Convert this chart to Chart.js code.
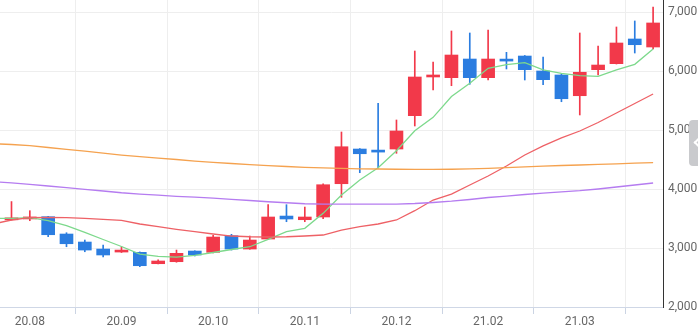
<!DOCTYPE html>
<html>
<head>
<meta charset="utf-8">
<script src="https://cdn.jsdelivr.net/npm/chart.js@4.4.1/dist/chart.umd.min.js"></script>
<style>
  html, body { margin: 0; padding: 0; background: #fff; }
  #wrap { position: relative; width: 698px; height: 336px; overflow: hidden; }
  #tab {
    position: absolute; left: 689px; top: 120px; width: 16px; height: 46px;
    background: #c9cacd; border-radius: 4px;
  }
  #tab::after {
    content: ''; position: absolute; left: 6px; top: 19px; width: 5px; height: 5px;
    border-left: 2px solid #fff; border-bottom: 2px solid #fff; transform: rotate(45deg);
  }
</style>
</head>
<body>
<div id="wrap">
  <canvas id="graph_area" width="698" height="336"></canvas>
  <div id="tab"></div>
</div>
<script>
// 주봉 시세 (시가/고가/저가/종가)
const opens  = [3480, 3495, 3533, 3239, 3103, 2984, 2933, 2928, 2735, 2769, 2950, 2928, 3210, 2984, 3154, 3544, 3482, 3528,
                4093, 4682, 4655, 4682, 5248, 5905, 5893, 6210, 5893, 6200, 6261, 6007, 5939, 5587, 6029, 6131, 6550, 6414];
const highs  = [3790, 3635, 3540, 3261, 3137, 3052, 3023, 2935, 2800, 2967, 2955, 3217, 3234, 3205, 3737, 3737, 3697, 4093,
                4971, 4690, 5458, 5175, 6346, 6159, 6686, 6652, 6703, 6324, 6270, 6244, 5950, 6652, 6431, 6754, 6856, 7093];
const lows   = [3475, 3465, 3193, 3023, 2938, 2849, 2925, 2684, 2730, 2760, 2866, 2920, 2967, 2980, 3150, 3448, 3448, 3499,
                3862, 4280, 4355, 4609, 5073, 5684, 5757, 5781, 5854, 6041, 5854, 5774, 5485, 5260, 5939, 6125, 6312, 6380];
const closes = [3500, 3527, 3227, 3074, 2967, 2883, 2967, 2701, 2781, 2911, 2883, 3188, 2984, 3137, 3528, 3494, 3528, 4076,
                4721, 4602, 4630, 4988, 5905, 5939, 6278, 5893, 6210, 6175, 6029, 5859, 5536, 5985, 6108, 6482, 6453, 6822];

// 이동평균선 (첫 값은 화면 왼쪽 밖의 직전 주)
const ma5   = [3502, 3506, 3516, 3468, 3380, 3268, 3146, 3027, 2899, 2860, 2848, 2877, 2925, 2976, 3023, 3149, 3278, 3336, 3590,
               3901, 4156, 4365, 4653, 4993, 5220, 5574, 5798, 6053, 6114, 6148, 6024, 5968, 5927, 5917, 6024, 6120, 6380];
const ma20  = [3409, 3477, 3516, 3522, 3516, 3505, 3489, 3472, 3409, 3363, 3319, 3278, 3239, 3205, 3193, 3188, 3193, 3205, 3222,
               3307, 3363, 3409, 3477, 3635, 3816, 3918, 4071, 4224, 4394, 4581, 4734, 4870, 4988, 5132, 5294, 5455, 5616];
const ma60  = [4772, 4759, 4738, 4708, 4677, 4645, 4613, 4580, 4553, 4529, 4504, 4478, 4456, 4436, 4417, 4400, 4385, 4372, 4361,
               4353, 4346, 4343, 4339, 4338, 4338, 4339, 4346, 4355, 4366, 4378, 4390, 4402, 4411, 4421, 4431, 4441, 4450];
const ma120 = [4125, 4108, 4083, 4054, 4025, 3996, 3969, 3940, 3918, 3898, 3879, 3864, 3850, 3828, 3808, 3787, 3770, 3753, 3748,
               3748, 3748, 3748, 3748, 3757, 3774, 3796, 3825, 3859, 3884, 3910, 3935, 3955, 3974, 4003, 4037, 4071, 4105];

// x축 눈금 (주 번호 → 월 표기), y축 가격 눈금
const tickIndex  = [1, 6, 11, 16, 21, 26, 31];
const tickLabels = ['20.08', '20.09', '20.10', '20.11', '20.12', '21.02', '21.03'];
const priceTicks = [2000, 3000, 4000, 5000, 6000, 7000];

const UP = '#f2394a';
const DOWN = '#2b7de0';

const candleColor = function (i) {
  return closes[i] >= opens[i] ? UP : DOWN;
};

const wickData = highs.map((h, i) => ({ x: i, y: [lows[i], h] }));
const bodyData = opens.map((o, i) => ({ x: i, y: [o, closes[i]] }));
const maPoints = function (arr) {
  return arr.map((v, i) => ({ x: i - 1, y: v }));
};

const lineSet = function (arr, color) {
  return {
    type: 'line',
    data: maPoints(arr),
    borderColor: color,
    borderWidth: 1.3,
    pointRadius: 0,
    tension: 0,
    order: 1
  };
};

const ctx = document.getElementById('graph_area').getContext('2d');
new Chart(ctx, {
  type: 'bar',
  data: {
    datasets: [
      {
        data: wickData,
        backgroundColor: (c) => candleColor(c.dataIndex),
        barThickness: 1,
        grouped: false,
        order: 3
      },
      {
        data: bodyData,
        backgroundColor: (c) => candleColor(c.dataIndex),
        barThickness: 13,
        grouped: false,
        minBarLength: 2,
        order: 2
      },
      lineSet(ma60, '#f5a24f'),
      lineSet(ma120, '#b57cf0'),
      lineSet(ma20, '#ee6166'),
      lineSet(ma5, '#7dd98c')
    ]
  },
  options: {
    responsive: false,
    animation: false,
    layout: { padding: 0 },
    plugins: { legend: { display: false }, tooltip: { enabled: false } },
    scales: {
      x: {
        type: 'linear',
        offset: false,
        min: -0.627,
        max: 35.54,
        afterBuildTicks: function (scale) {
          scale.ticks = tickIndex.map(v => ({ value: v }));
        },
        afterFit: function (scale) {
          scale.height = 29;
          scale.paddingLeft = 0;
          scale.paddingRight = 0;
        },
        ticks: {
          autoSkip: false,
          maxRotation: 0,
          padding: 1,
          color: '#666',
          font: { family: 'Roboto', size: 12 },
          callback: function (v) {
            const k = tickIndex.indexOf(v);
            return k >= 0 ? tickLabels[k] : '';
          }
        },
        grid: { color: '#eeeeee', tickColor: '#cbd4e3', tickLength: 7 },
        border: { color: '#cfd7e6' }
      },
      y: {
        position: 'right',
        min: 2000,
        max: 7212,
        afterBuildTicks: function (scale) {
          scale.ticks = priceTicks.map(v => ({ value: v }));
        },
        afterFit: function (scale) {
          scale.width = 35;
          scale.paddingTop = 0;
          scale.paddingBottom = 0;
        },
        ticks: {
          padding: 5,
          color: '#666',
          font: { family: 'Roboto', size: 12 },
          callback: function (v) {
            return v.toLocaleString('en-US');
          }
        },
        grid: { color: '#eeeeee', drawTicks: false },
        border: { color: '#333', width: 1 }
      }
    }
  }
});
</script>
</body>
</html>
